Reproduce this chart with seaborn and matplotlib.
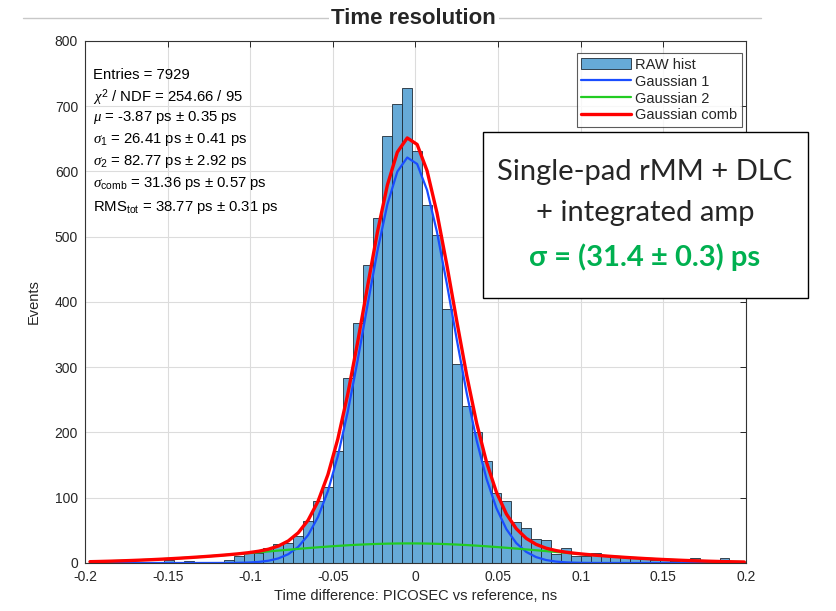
import numpy as np
import pandas as pd
import matplotlib
matplotlib.use('Agg')
import matplotlib.pyplot as plt
import seaborn as sns
from matplotlib.patches import Rectangle
from matplotlib.lines import Line2D

# histogram: 67 bins of 6 ps from -0.2 ns
bin_edges = [round(-0.2 + 0.006 * k, 4) for k in range(68)]
counts = [0, 0, 0, 1, 0, 1, 1, 2,
          5, 2, 3, 1, 1, 1,
          5, 10, 15, 16, 23, 29, 30, 41, 64, 95,
          117, 171, 284, 368, 456, 529, 654, 704, 728, 632,
          548, 502, 389, 305, 240, 201, 156, 107, 95,
          63, 53, 37, 35, 14, 23,
          10, 11, 15, 12, 9, 11, 9, 6, 5, 4, 3, 2, 7, 2, 2, 7, 2, 1]

# fit results (ns)
mu = -0.00387
sigma1 = 0.02641
sigma2 = 0.08277
amp1 = 622
amp2 = 30

stats_lines = [
    'Entries = 7929',
    r'$\chi^2$ / NDF = 254.66 / 95',
    r'$\mu$ = -3.87 ps $\pm$ 0.35 ps',
    r'$\sigma_1$ = 26.41 ps $\pm$ 0.41 ps',
    r'$\sigma_2$ = 82.77 ps $\pm$ 2.92 ps',
    r'$\sigma_{\rm comb}$ = 31.36 ps $\pm$ 0.57 ps',
    r'RMS$_{\rm tot}$ = 38.77 ps $\pm$ 0.31 ps',
]
stats_y = [75, 98, 118, 139, 161, 184, 207]
xticks = [-0.2, -0.15, -0.1, -0.05, 0, 0.05, 0.1, 0.15, 0.2]
xtick_labels = ['-0.2', '-0.15', '-0.1', '-0.05', '0', '0.05', '0.1', '0.15', '0.2']
yticks = [0, 100, 200, 300, 400, 500, 600, 700, 800]

edges = np.array(bin_edges)
centers = (edges[:-1] + edges[1:]) / 2
g1 = amp1 * np.exp(-0.5 * ((centers - mu) / sigma1) ** 2)
g2 = amp2 * np.exp(-0.5 * ((centers - mu) / sigma2) ** 2)
df = pd.DataFrame({'t': centers, 'n': counts, 'g1': g1, 'g2': g2, 'comb': g1 + g2})

sns.set_style('white')
plt.rcParams['font.family'] = ['Liberation Sans', 'DejaVu Sans']
plt.rcParams['mathtext.fontset'] = 'custom'
plt.rcParams['mathtext.rm'] = 'Liberation Sans'
plt.rcParams['mathtext.it'] = 'Liberation Serif:italic'

fig = plt.figure(figsize=(8.36, 6.11), dpi=100)
ax = fig.add_axes([0.1017, 0.0786, 0.7906, 0.8543])

sns.histplot(data=df, x='t', weights='n', bins=bin_edges, ax=ax,
             color='#66aad7', alpha=1, edgecolor='#1e2b36', linewidth=0.6,
             label='RAW hist')
sns.lineplot(data=df, x='t', y='g1', ax=ax, color='#1a4dff', lw=1.6,
             estimator=None, label='Gaussian 1')
sns.lineplot(data=df, x='t', y='g2', ax=ax, color='#22cc22', lw=1.6,
             estimator=None, label='Gaussian 2')
sns.lineplot(data=df, x='t', y='comb', ax=ax, color='#ff0000', lw=2.4,
             estimator=None, label='Gaussian comb')

ax.set_xlim(-0.2, 0.2)
ax.set_ylim(0, 800)
ax.set_xticks(xticks)
ax.set_xticklabels(xtick_labels)
ax.set_yticks(yticks)
ax.grid(True, color='#dcdcdc', lw=0.8)
ax.set_axisbelow(True)
for s in ax.spines.values():
    s.set_color('#333333')
    s.set_linewidth(0.8)
ax.tick_params(direction='in', length=4, width=0.7, top=True, right=True,
               labelsize=10, colors='#262626', pad=5)
ax.set_xlabel('Time difference: PICOSEC vs reference, ns', fontsize=10.5, color='#262626')
ax.set_ylabel('Events', fontsize=10.5, color='#262626', labelpad=10)

handles, labels = ax.get_legend_handles_labels()
order = [labels.index(l) for l in ['RAW hist', 'Gaussian 1', 'Gaussian 2', 'Gaussian comb']]
leg = ax.legend([handles[i] for i in order], [labels[i] for i in order],
                loc='upper right', bbox_to_anchor=(0.998, 0.982), fontsize=10.5,
                frameon=True, fancybox=False, borderpad=0.3, labelspacing=0.2,
                handlelength=3.4, handletextpad=0.3, borderaxespad=0.2)
leg.get_frame().set_edgecolor('#333333')
leg.get_frame().set_linewidth(0.8)

for line, yp in zip(stats_lines, stats_y):
    fig.text(93 / 836, 1 - yp / 611, line, fontsize=10.7, va='center', ha='left',
             color='black')

# title with the slide rule behind it
fig.add_artist(Line2D([0.027, 0.91], [0.970, 0.970], color='#c8c8c8', lw=1))
fig.text(0.495, 0.970, 'Time resolution', ha='center', va='center',
         fontsize=16, fontweight='bold',
         bbox=dict(facecolor='white', edgecolor='none', pad=2))

# annotation box
fig.add_artist(Rectangle((483 / 836, 1 - 298 / 611), 325 / 836, 166 / 611,
                         transform=fig.transFigure, facecolor='white',
                         edgecolor='black', lw=1))
fig.text(645 / 836, 1 - 172 / 611, 'Single-pad rMM + DLC', ha='center', va='center',
         fontsize=21, family='Lato')
fig.text(645 / 836, 1 - 213 / 611, '+ integrated amp', ha='center', va='center',
         fontsize=21, family='Lato')
fig.text(645 / 836, 1 - 257 / 611, 'σ = (31.4 ± 0.3) ps', ha='center', va='center',
         fontsize=21, family='Lato', fontweight='bold', color='#00b050')

fig.savefig('out.png', dpi=100)
